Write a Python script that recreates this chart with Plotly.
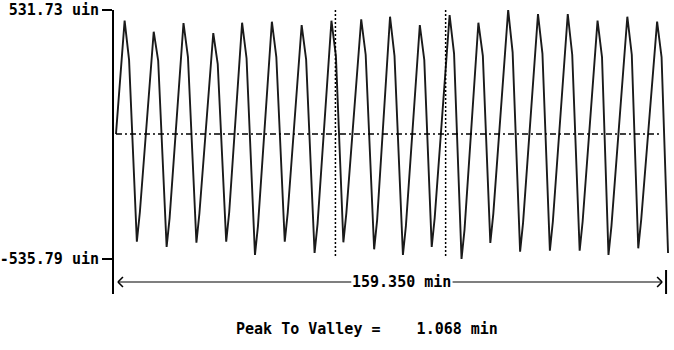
import plotly.graph_objects as go

# ---- data (x in min along the trace, y in uin) ----
peak_x = [1.65, 10.14, 18.83, 27.52, 35.93, 44.62, 53.31, 62.00, 70.69, 79.10,
          87.79, 96.48, 104.88, 113.57, 122.27, 130.96, 139.65, 148.34, 157.03]
peak_y = [485.9, 438.7, 476.0, 433.1, 477.3, 481.6, 467.4, 485.9, 491.9, 503.0,
          467.4, 510.3, 477.3, 531.73, 514.6, 514.6, 485.9, 503.0, 481.6]
shoulder_x = [2.95, 11.44, 20.13, 28.82, 37.23, 45.92, 54.61, 63.30, 71.99, 80.40,
              89.09, 97.78, 106.18, 114.87, 123.57, 132.26, 140.95, 149.64, 158.33]
shoulder_y = [318, 315, 330, 300, 325, 330, 320, 335, 340, 335,
              318, 345, 335, 350, 345, 340, 330, 340, 330]
trough_x = [5.22, 13.91, 22.60, 31.29, 39.69, 48.38, 57.08, 65.48, 74.46, 82.86,
            91.26, 99.96, 108.36, 117.05, 125.74, 134.43, 142.84, 151.53, 160.22]
trough_y = [-461.6, -484.4, -465.9, -461.6, -518.6, -461.6, -510.1, -464.2, -494.2, -518.6,
            -484.4, -535.79, -467.2, -504.5, -500.2, -500.2, -518.6, -489.9, -510.1]
rise_x = [6.09, 14.78, 23.47, 32.16, 40.56, 49.25, 57.95, 66.35, 75.33, 83.73,
          92.13, 100.83, 109.23, 117.92, 126.61, 135.30, 143.71, 152.40]
rise_y = [-336.6, -359.4, -340.9, -336.6, -393.6, -336.6, -385.1, -339.2, -369.2, -393.6,
          -359.4, -410.8, -342.2, -379.5, -375.2, -375.2, -393.6, -364.9]
start_x, start_y = -0.87, 0.0

y_max_label = 531.73
y_min_label = -535.79
span_start = 0.0
span_end = 159.35
cursor_x = [63.16, 95.32]
peak_to_valley = 1.068

# ---- build trace ----
xs = [start_x]
ys = [start_y]
for i in range(len(peak_x)):
    xs += [peak_x[i], shoulder_x[i], trough_x[i]]
    ys += [peak_y[i], shoulder_y[i], trough_y[i]]
    if i < len(rise_x):
        xs.append(rise_x[i])
        ys.append(rise_y[i])

FONT = dict(family="DejaVu Sans Mono", size=15, color="black", weight="bold")

fig = go.Figure()
fig.add_trace(go.Scatter(x=xs, y=ys, mode="lines",
                         line=dict(color="#1a1a1a", width=1.9), hoverinfo="skip",
                         showlegend=False))

px_x = (span_end - span_start) / 550.0      # data per pixel along x
px_y = (y_max_label - y_min_label) / 249.0  # data per pixel along y

x_lo = span_start - 5 * px_x
x_hi = span_start + 559 * px_x
y_hi = y_max_label
y_lo = y_max_label - 284 * px_y

shapes = []
# mean line (dash-dot)
shapes.append(dict(type="line", x0=start_x, x1=span_end - 5 * px_x, y0=0, y1=0,
                   line=dict(color="black", width=1.5, dash="6px,3px,2px,3px")))
# cursor dotted lines
for cx in cursor_x:
    shapes.append(dict(type="line", x0=cx, x1=cx, y0=y_max_label, y1=y_min_label + 1 * px_y,
                       line=dict(color="black", width=1.5, dash="2px,2px")))
# span arrow
ay = y_max_label - 272 * px_y
label_left = span_start + 234 * px_x
label_right = span_start + 336 * px_x
shapes.append(dict(type="line", x0=span_start - 1 * px_x, x1=label_left, y0=ay, y1=ay,
                   line=dict(color="black", width=1.2)))
shapes.append(dict(type="line", x0=label_right, x1=span_end - 3 * px_x, y0=ay, y1=ay,
                   line=dict(color="black", width=1.2)))
# left chevron
lx = span_start - 1 * px_x
shapes.append(dict(type="line", x0=lx, x1=lx + 5 * px_x, y0=ay, y1=ay + 5 * px_y,
                   line=dict(color="black", width=1.6)))
shapes.append(dict(type="line", x0=lx, x1=lx + 5 * px_x, y0=ay, y1=ay - 5 * px_y,
                   line=dict(color="black", width=1.6)))
# right chevron
rx = span_end - 3 * px_x
shapes.append(dict(type="line", x0=rx, x1=rx - 5 * px_x, y0=ay, y1=ay + 5 * px_y,
                   line=dict(color="black", width=1.6)))
shapes.append(dict(type="line", x0=rx, x1=rx - 5 * px_x, y0=ay, y1=ay - 5 * px_y,
                   line=dict(color="black", width=1.6)))
# right end bar
shapes.append(dict(type="line", x0=span_end + 1 * px_x, x1=span_end + 1 * px_x,
                   y0=ay + 12 * px_y, y1=y_lo,
                   line=dict(color="black", width=2)))

annotations = [
    dict(x=(label_left + label_right) / 2, y=ay, xref="x", yref="y",
         text=f"{span_end:.3f} min", showarrow=False, font=FONT,
         xanchor="center", yanchor="middle"),
    dict(x=(365 - 110) / 564, y=(294 - 329) / 284, xref="paper", yref="paper",
         text=f"Peak To Valley =\u00a0\u00a0\u00a0\u00a0{peak_to_valley:.3f} min",
         showarrow=False, font=FONT, xanchor="center", yanchor="middle"),
]

fig.update_layout(
    width=674, height=350,
    margin=dict(l=110, r=0, t=10, b=56, pad=0),
    paper_bgcolor="white", plot_bgcolor="white",
    shapes=shapes, annotations=annotations,
    xaxis=dict(range=[x_lo, x_hi], visible=False, showgrid=False, zeroline=False),
    yaxis=dict(range=[y_lo, y_hi], showgrid=False, zeroline=False,
               showline=True, linecolor="black", linewidth=2,
               ticks="outside", ticklen=10, tickwidth=2, tickcolor="black",
               tickvals=[y_max_label, y_min_label],
               ticktext=[f"{y_max_label:.2f} uin", f"{y_min_label:.2f} uin"],
               tickfont=FONT),
    showlegend=False,
)

fig.write_html("out.html")
